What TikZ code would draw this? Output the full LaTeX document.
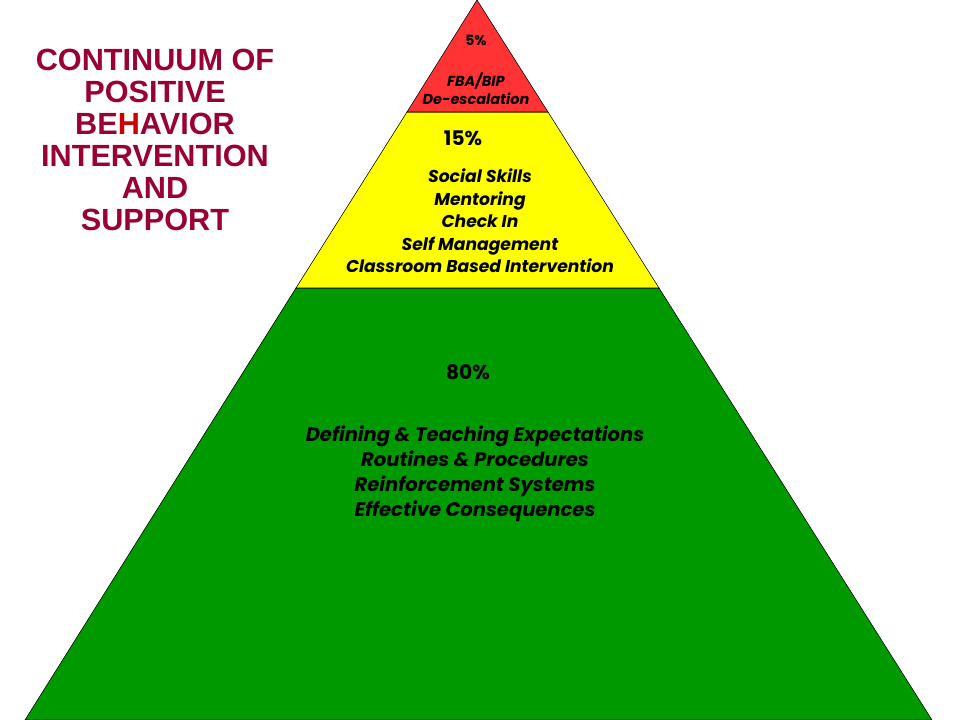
\documentclass[tikz,border=0pt]{standalone}
\usepackage{fontspec}
\setmainfont{Liberation Sans}
\newfontfamily\gothic{Poppins}
\usetikzlibrary{positioning}

\definecolor{titlered}{RGB}{153,0,51}
\definecolor{hred}{RGB}{204,0,0}
\definecolor{topred}{RGB}{255,51,51}
\definecolor{midyellow}{RGB}{255,255,0}
\definecolor{basegreen}{RGB}{0,153,0}

\begin{document}
\begin{tikzpicture}[x=0.025cm,y=-0.025cm]
  \tikzset{
    band/.style={draw=black, line width=0.4pt},
    heading/.style={font=\bfseries\fontsize{21.8}{22.8}\selectfont, text=titlered, align=center},
    pct/.style={font=\gothic\bfseries\fontsize{14.3}{16}\selectfont},
    smallpct/.style={font=\gothic\bfseries\fontsize{10}{12}\selectfont},
    items/.style={font=\gothic\bfseries\itshape\fontsize{12.2}{16}\selectfont, align=center},
    smallitems/.style={font=\gothic\bfseries\itshape\fontsize{10.3}{12.8}\selectfont, align=center},
    bigitems/.style={font=\gothic\bfseries\itshape\fontsize{13.9}{17.8}\selectfont, align=center}
  }
  \useasboundingbox (0,0) rectangle (960,720);

  %-----corners of the pyramid and of its bands
  \coordinate (apex) at (477,0);
  \coordinate (redl) at (407,112);
  \coordinate (redr) at (548,112);
  \coordinate (yell) at (296,288);
  \coordinate (yelr) at (659,288);
  \coordinate (basel) at (25,720);
  \coordinate (baser) at (932,720);

  \filldraw[band, fill=basegreen] (yell) -- (yelr) -- (baser) -- (basel) -- cycle;
  \filldraw[band, fill=midyellow] (redl) -- (redr) -- (yelr) -- (yell) -- cycle;
  \filldraw[band, fill=topred] (apex) -- (redr) -- (redl) -- cycle;

  %-----title
  \node[heading] (title) at (155,140) {CONTINUUM OF\\POSITIVE\\BE\textcolor{hred}{H}AVIOR\\INTERVENTION\\AND\\SUPPORT};

  %-----top band
  \node[smallpct] (p5) at (476,40) {5\%};
  \node[smallitems] (fba) at (476,89) {FBA/BIP\\De-escalation};

  %-----middle band
  \node[pct] (p15) at (463,138) {15\%};
  \node[items] (tier2) at (480,221) {Social Skills\\Mentoring\\Check In\\Self Management\\Classroom Based Intervention};

  %-----base band
  \node[pct] (p80) at (468,372) {80\%};
  \node[bigitems] (tier1) at (475,474) {Defining \& Teaching Expectations\\Routines \& Procedures\\Reinforcement Systems\\Effective Consequences};
\end{tikzpicture}
\end{document}
